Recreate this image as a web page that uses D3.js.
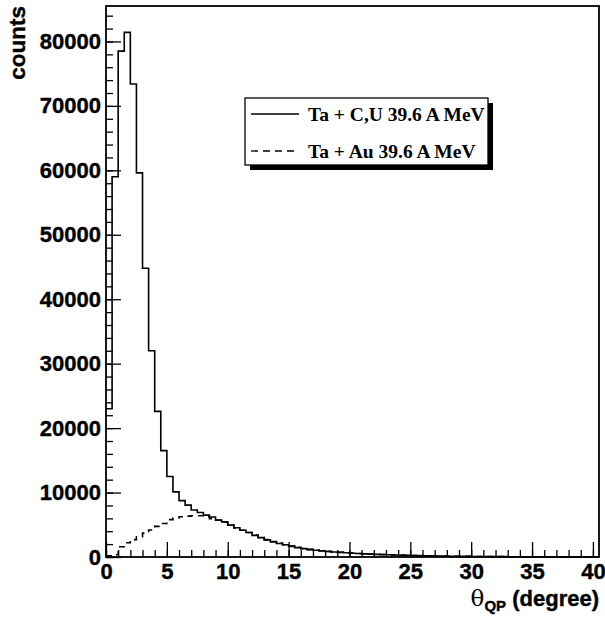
<!DOCTYPE html>
<html>
<head>
<meta charset="utf-8">
<script src="https://cdn.jsdelivr.net/npm/d3@7"></script>
<style>
  html, body { margin: 0; padding: 0; background: #fff; }
  svg { display: block; }
</style>
</head>
<body>
<svg id="chart" width="605" height="618"></svg>
<script>
// ---- data ----
const binWidth = 0.5;            // degrees per bin, bins start at 0
const xDomain = [0, 40.5];
const yDomain = [0, 85500];
const xMajorTicks = [0, 5, 10, 15, 20, 25, 30, 35, 40];
const yMajorTicks = [0, 10000, 20000, 30000, 40000, 50000, 60000, 70000, 80000];
const seriesNames = ["Ta + C,U 39.6 A MeV", "Ta + Au 39.6 A MeV"];

const countsCU = [
  23000, 59000, 78500, 81400, 73400, 59600, 44800, 32000, 22600, 16500,
  12500, 10100, 8750, 8050, 7300, 6900, 6500, 6200, 5750, 5450,
  4950, 4550, 4150, 3800, 3350, 3000, 2650, 2350, 2100, 1900,
  1650, 1450, 1300, 1150, 1050, 950, 850, 780, 720, 650,
  590, 540, 490, 450, 410, 370, 340, 310, 280, 255,
  230, 210, 190, 170, 155, 140, 125, 115, 105, 95,
  85, 78, 70, 64, 58, 52, 48, 44, 40, 36,
  33, 30, 27, 25, 22, 20, 18, 16, 15, 13,
  12
];
const countsAu = [
  200, 350, 1600, 2200, 2700, 3150, 3700, 4200, 4750, 5200,
  5800, 6050, 6250, 6350, 6400, 6400, 6250, 5950, 5700, 5400,
  4950, 4500, 4150, 3800, 3400, 3000, 2700, 2400, 2150, 1900,
  1700, 1500, 1320, 1180, 1060, 960, 870, 790, 730, 660,
  600, 550, 500, 455, 415, 380, 345, 315, 285, 260,
  235, 215, 195, 175, 160, 145, 130, 118, 108, 98,
  88, 80, 72, 65, 59, 54, 49, 45, 41, 37,
  34, 31, 28, 25, 23, 21, 19, 17, 15, 14,
  13
];

// ---- layout ----
const svg = d3.select("#chart");
const L = 106, R = 599, T = 6, B = 557;
const x = d3.scaleLinear().domain(xDomain).range([L, R]);
const y = d3.scaleLinear().domain(yDomain).range([B, T]);
const sansBold = "'Liberation Sans', Arial, Helvetica, sans-serif";

// histogram step path
function stepPath(vals) {
  const pts = [];
  vals.forEach((v, i) => {
    pts.push([x(i * binWidth), y(v)]);
    pts.push([x((i + 1) * binWidth), y(v)]);
  });
  return d3.line()(pts);
}

svg.append("path").attr("d", stepPath(countsCU))
  .attr("fill", "none").attr("stroke", "#000").attr("stroke-width", 1.6);
svg.append("path").attr("d", stepPath(countsAu))
  .attr("fill", "none").attr("stroke", "#000").attr("stroke-width", 1.6)
  .attr("stroke-dasharray", "6,5");

// axes
const xMinor = d3.range(0, 41, 1);
const yMinor = d3.range(0, 85001, 2000);

const gx = svg.append("g").attr("transform", `translate(0,${B})`);
gx.call(d3.axisBottom(x).tickValues(xMinor).tickSize(-7).tickFormat(""));
const gx2 = svg.append("g").attr("transform", `translate(0,${B})`);
gx2.call(d3.axisBottom(x).tickValues(xMajorTicks).tickSize(-15).tickPadding(6).tickFormat(d3.format("d")));

const gy = svg.append("g").attr("transform", `translate(${L},0)`);
gy.call(d3.axisLeft(y).tickValues(yMinor).tickSize(-7).tickFormat(""));
const gy2 = svg.append("g").attr("transform", `translate(${L},0)`);
gy2.call(d3.axisLeft(y).tickValues(yMajorTicks).tickSize(-15).tickPadding(5).tickFormat(d3.format("d")));

[gx, gx2, gy, gy2].forEach(g => {
  g.select(".domain").remove();
  g.selectAll(".tick line").attr("stroke", "#000").attr("stroke-width", 1.3);
  g.selectAll(".tick text").attr("fill", "#000").attr("stroke", "#000").attr("stroke-width", 0.4)
    .style("font-family", sansBold).style("font-weight", "bold").style("font-size", "22px");
});
gx2.selectAll(".tick text").attr("dy", "0.74em");

// frame
svg.append("rect").attr("x", L).attr("y", T).attr("width", R - L).attr("height", B - T)
  .attr("fill", "none").attr("stroke", "#000").attr("stroke-width", 1.8);

// axis titles
svg.append("text")
  .attr("transform", `translate(25,${T}) rotate(-90)`)
  .attr("text-anchor", "end").attr("stroke", "#000").attr("stroke-width", 0.4)
  .style("font-family", sansBold).style("font-weight", "bold").style("font-size", "22.5px")
  .text("counts");

const xt = svg.append("text")
  .attr("x", R).attr("y", 606).attr("text-anchor", "end").attr("stroke", "#000").attr("stroke-width", 0.4)
  .style("font-family", sansBold).style("font-weight", "bold").style("font-size", "22px");
xt.append("tspan").style("font-weight", "normal").style("font-size", "23px").attr("stroke-width", 0)
  .style("font-family", "'DejaVu Serif', 'Liberation Serif', serif").text("θ");
xt.append("tspan").attr("dy", 5).style("font-size", "15px").text("QP");
xt.append("tspan").attr("dy", -5).text(" (degree)");

// legend
const lg = svg.append("g");
const lx = 245, ly = 98, lw = 243, lh = 67;
lg.append("rect").attr("x", lx + 5).attr("y", ly + 5).attr("width", lw).attr("height", lh).attr("fill", "#000");
lg.append("rect").attr("x", lx).attr("y", ly).attr("width", lw).attr("height", lh)
  .attr("fill", "#fff").attr("stroke", "#000").attr("stroke-width", 1.3);
const styles = [null, "7,5"];
const rowsY = [114, 151];
seriesNames.forEach((name, i) => {
  lg.append("line").attr("x1", 251).attr("x2", 299).attr("y1", rowsY[i]).attr("y2", rowsY[i])
    .attr("stroke", "#000").attr("stroke-width", 1.3)
    .attr("stroke-dasharray", styles[i]);
  lg.append("text").attr("x", 308).attr("y", rowsY[i] + 7)
    .style("font-family", "'Liberation Serif', 'Times New Roman', serif")
    .style("font-weight", "bold").style("font-size", "19.5px")
    .text(name);
});
</script>
</body>
</html>
